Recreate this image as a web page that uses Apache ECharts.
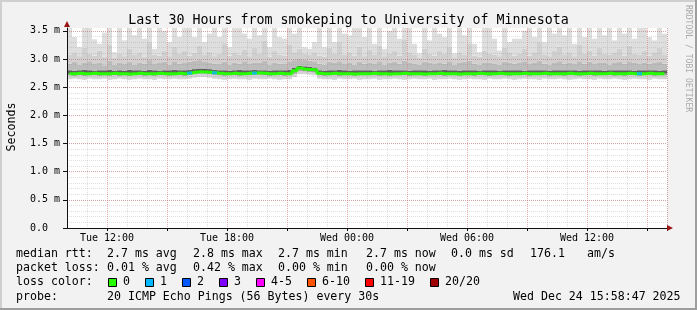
<!DOCTYPE html>
<html><head><meta charset="utf-8">
<script src="https://cdn.jsdelivr.net/npm/echarts@6/dist/echarts.min.js"></script>
<style>html,body{margin:0;padding:0;background:#f2f2f2}#c{width:697px;height:310px}</style>
</head><body><div id="c"></div>
<script>
// ---- data (15-minute buckets from Tue 10:00, 120 buckets = 30 h) ----
const startMinute = 10 * 60;
const bucketMinutes = 15;
const bucketCount = 120;
const xTickLabels = ['Tue 12:00', 'Tue 18:00', 'Wed 00:00', 'Wed 06:00', 'Wed 12:00'];
const yMax = 3.55;

const medianRtt = [
 2.74,2.74,2.745,2.74,2.74,2.745,2.74,2.74,2.74,2.745,
 2.74,2.74,2.735,2.74,2.745,2.74,2.74,2.74,2.745,2.74,
 2.74,2.74,2.745,2.74,2.75,2.765,2.775,2.77,2.765,2.755,
 2.745,2.74,2.74,2.745,2.74,2.74,2.745,2.75,2.75,2.745,
 2.74,2.74,2.745,2.74,2.74,2.79,2.84,2.82,2.815,2.81,
 2.745,2.74,2.74,2.745,2.74,2.74,2.74,2.735,2.74,2.74,
 2.74,2.745,2.74,2.74,2.735,2.74,2.74,2.745,2.74,2.74,
 2.74,2.735,2.74,2.74,2.745,2.74,2.74,2.74,2.735,2.74,
 2.74,2.74,2.745,2.74,2.74,2.74,2.745,2.74,2.74,2.74,
 2.74,2.745,2.74,2.74,2.74,2.745,2.74,2.74,2.74,2.74,
 2.745,2.74,2.74,2.74,2.745,2.74,2.74,2.74,2.745,2.74,
 2.74,2.74,2.745,2.74,2.74,2.74,2.745,2.74,2.74,2.74];

const lossCount = [
 0,0,0,0,0,0,0,0,0,0, 0,0,0,0,0,0,0,0,0,0,
 0,0,0,0,1,0,0,0,0,1, 0,0,0,0,0,0,0,1,0,0,
 0,0,0,0,0,0,0,0,0,0, 0,0,0,0,0,0,0,0,0,0,
 0,0,0,0,0,0,0,0,0,0, 0,0,0,0,0,0,0,0,0,0,
 0,0,0,0,0,0,0,0,0,0, 0,0,0,0,0,0,0,0,0,0,
 0,0,0,0,0,0,0,0,0,0, 0,0,0,0,1,0,0,0,0,0];

const smokeMin = [
 2.64,2.65,2.64,2.63,2.65,2.64,2.64,2.65,2.63,2.64,
 2.65,2.64,2.63,2.64,2.65,2.64,2.64,2.63,2.65,2.64,
 2.64,2.65,2.64,2.64,2.65,2.67,2.68,2.68,2.67,2.65,
 2.64,2.63,2.64,2.65,2.64,2.64,2.63,2.65,2.64,2.64,
 2.65,2.64,2.63,2.64,2.64,2.68,2.73,2.73,2.72,2.71,
 2.65,2.64,2.64,2.63,2.65,2.64,2.64,2.65,2.63,2.64,
 2.64,2.65,2.63,2.64,2.64,2.65,2.64,2.63,2.64,2.65,
 2.64,2.64,2.65,2.63,2.64,2.64,2.65,2.64,2.63,2.64,
 2.65,2.64,2.64,2.63,2.65,2.64,2.64,2.65,2.64,2.63,
 2.64,2.65,2.64,2.64,2.63,2.65,2.64,2.64,2.65,2.64,
 2.63,2.64,2.65,2.64,2.64,2.63,2.65,2.64,2.64,2.65,
 2.64,2.63,2.64,2.65,2.64,2.64,2.63,2.65,2.64,2.64];

const smokeLow = [
 2.71,2.70,2.71,2.70,2.71,2.71,2.70,2.71,2.70,2.71,
 2.70,2.71,2.70,2.71,2.71,2.70,2.71,2.70,2.71,2.71,
 2.70,2.71,2.71,2.70,2.72,2.73,2.74,2.74,2.73,2.72,
 2.71,2.70,2.71,2.71,2.70,2.71,2.71,2.72,2.72,2.71,
 2.70,2.71,2.71,2.70,2.71,2.74,2.79,2.78,2.77,2.76,
 2.71,2.70,2.71,2.71,2.70,2.71,2.71,2.70,2.71,2.71,
 2.71,2.71,2.70,2.71,2.70,2.71,2.71,2.71,2.70,2.71,
 2.71,2.70,2.71,2.71,2.71,2.70,2.71,2.71,2.70,2.71,
 2.71,2.70,2.71,2.71,2.70,2.71,2.71,2.71,2.70,2.71,
 2.71,2.71,2.70,2.71,2.71,2.71,2.70,2.71,2.71,2.70,
 2.71,2.71,2.70,2.71,2.71,2.70,2.71,2.71,2.71,2.70,
 2.71,2.70,2.71,2.71,2.70,2.71,2.71,2.70,2.71,2.71];

const smokeHigh = [
 2.80,2.79,2.80,2.81,2.80,2.79,2.80,2.80,2.81,2.79,
 2.80,2.79,2.81,2.80,2.80,2.79,2.81,2.80,2.79,2.80,
 2.80,2.81,2.80,2.80,2.81,2.82,2.83,2.83,2.82,2.81,
 2.80,2.80,2.79,2.80,2.81,2.80,2.80,2.81,2.80,2.80,
 2.79,2.80,2.80,2.80,2.81,2.84,2.88,2.87,2.86,2.85,
 2.80,2.79,2.80,2.80,2.81,2.80,2.79,2.80,2.80,2.80,
 2.80,2.79,2.80,2.80,2.81,2.80,2.80,2.80,2.79,2.80,
 2.80,2.80,2.79,2.80,2.80,2.81,2.80,2.80,2.79,2.80,
 2.80,2.80,2.79,2.80,2.80,2.80,2.79,2.80,2.80,2.80,
 2.80,2.79,2.80,2.80,2.80,2.80,2.79,2.80,2.80,2.80,
 2.80,2.80,2.79,2.80,2.80,2.80,2.80,2.79,2.80,2.80,
 2.80,2.80,2.80,2.79,2.80,2.80,2.80,2.80,2.79,2.80];

const smokeMid = [
 2.92,2.95,2.90,2.94,2.96,2.91,2.93,2.89,2.97,2.90,
 2.93,2.91,2.95,2.90,2.94,2.92,2.98,2.91,2.93,2.95,
 2.90,2.96,2.92,2.94,2.95,2.97,2.98,2.96,2.94,2.92,
 2.91,2.95,2.90,2.93,2.92,2.96,2.91,2.94,2.93,2.97,
 2.90,2.94,2.92,2.91,2.96,2.98,3.00,2.99,2.97,2.96,
 2.92,2.90,2.95,2.93,2.96,2.91,2.94,2.90,2.95,2.92,
 2.94,2.91,2.96,2.90,2.93,2.95,2.92,2.97,2.94,2.91,
 2.90,2.95,2.93,2.91,2.94,2.92,2.96,2.90,2.93,2.95,
 2.97,2.92,2.90,2.94,2.93,2.91,2.90,2.95,2.93,2.92,
 2.94,2.96,2.91,2.93,2.97,2.92,2.90,2.94,2.96,2.92,
 2.93,2.91,2.96,2.92,2.95,2.91,2.94,2.93,2.90,2.94,
 2.95,2.92,2.96,2.93,2.91,2.94,2.92,2.93,2.95,2.92];

const smokeUpper = [
 3.08,3.12,3.05,3.20,3.10,3.06,3.15,3.04,3.25,3.02,
 3.10,3.05,3.18,3.07,3.12,3.04,3.30,3.08,3.06,3.14,
 3.05,3.22,3.09,3.15,3.06,3.11,3.24,3.07,3.13,3.05,
 3.10,3.28,3.06,3.12,3.08,3.16,3.05,3.20,3.09,3.32,
 3.04,3.14,3.08,3.06,3.26,3.12,3.18,3.10,3.08,3.12,
 3.06,3.04,3.20,3.10,3.30,3.08,3.12,3.06,3.22,3.05,
 3.16,3.08,3.24,3.05,3.10,3.14,3.06,3.35,3.12,3.07,
 3.02,3.18,3.09,3.06,3.14,3.10,3.22,3.03,3.12,3.08,
 3.28,3.06,3.04,3.15,3.10,3.08,3.05,3.20,3.12,3.06,
 3.10,3.18,3.06,3.12,3.30,3.08,3.05,3.14,3.22,3.07,
 3.12,3.05,3.26,3.09,3.15,3.06,3.20,3.10,3.08,3.12,
 3.18,3.06,3.24,3.10,3.08,3.14,3.06,3.12,3.20,3.08];

const smokeMax = [
 3.55,3.39,3.21,3.55,3.55,3.35,3.27,3.47,3.55,3.12,
 3.55,3.33,3.55,3.42,3.55,3.36,3.55,3.18,3.55,3.50,
 3.30,3.55,3.39,3.55,3.55,3.39,3.55,3.30,3.45,3.55,
 3.39,3.55,3.21,3.55,3.55,3.45,3.36,3.55,3.42,3.55,
 3.21,3.55,3.39,3.36,3.55,3.45,3.55,3.21,3.18,3.30,
 3.55,3.21,3.55,3.30,3.55,3.45,3.42,3.55,3.55,3.39,
 3.55,3.27,3.55,3.18,3.50,3.55,3.36,3.55,3.55,3.27,
 3.10,3.55,3.33,3.55,3.45,3.39,3.55,3.10,3.55,3.42,
 3.55,3.27,3.12,3.55,3.55,3.36,3.15,3.55,3.30,3.36,
 3.36,3.50,3.55,3.39,3.55,3.30,3.55,3.45,3.55,3.42,
 3.55,3.27,3.55,3.39,3.55,3.36,3.55,3.42,3.55,3.33,
 3.55,3.45,3.55,3.36,3.55,3.55,3.39,3.33,3.55,3.45];

const lossLabels = ['0', '1', '2', '3', '4-5', '6-10', '11-19', '20/20'];
const lossColors = ['#26ff00', '#00b8ff', '#0059ff', '#7e00ff', '#ff00ff', '#ff5500', '#ff0000', '#a10000'];
const smokeColors = ['#d4d4d4', '#a0a0a0', '#5e5e5e', '#bcbcbc', '#d0d0d0', '#dedede'];

const statsRtt = ['2.7 ms avg', '2.8 ms max', '2.7 ms min', '2.7 ms now', '0.0 ms sd', '176.1', 'am/s'];
const statsLoss = ['0.01 % avg', '0.42 % max', '0.00 % min', '0.00 % now'];

// ---- build ----
const days = ['Tue', 'Wed'];
const categories = [];
for (let i = 0; i < bucketCount; i++) {
  const m = startMinute + i * bucketMinutes;
  const d = days[Math.floor(m / 1440)];
  const hh = Math.floor((m % 1440) / 60), mm = m % 60;
  categories.push(d + ' ' + String(hh).padStart(2, '0') + ':' + String(mm).padStart(2, '0'));
}
const layers = [smokeMin, smokeLow, medianRtt, smokeHigh, smokeMid, smokeUpper, smokeMax];
const series = [];
series.push({type: 'bar', stack: 'smoke', data: smokeMin, itemStyle: {color: 'rgba(0,0,0,0)'},
  barCategoryGap: '0%', silent: true, z: 2});
for (let k = 1; k < layers.length; k++) {
  series.push({type: 'bar', stack: 'smoke', barCategoryGap: '0%', silent: true, z: 2,
    itemStyle: {color: smokeColors[k - 1]},
    data: layers[k].map((v, i) => +(v - layers[k - 1][i]).toFixed(4))});
}
series.push({type: 'line', step: 'middle', data: medianRtt, showSymbol: false, symbol: 'none',
  lineStyle: {color: lossColors[0], width: 3}, z: 6, silent: true});
function lossIndex(n) { return n <= 3 ? n : n <= 5 ? 4 : n <= 10 ? 5 : n <= 19 ? 6 : 7; }
const lossPts = [];
lossCount.forEach((n, i) => { if (n > 0) lossPts.push({value: [i, medianRtt[i]], itemStyle: {color: lossColors[lossIndex(n)]}}); });
series.push({type: 'scatter', data: lossPts, symbol: 'rect', symbolSize: [5, 3], z: 7, silent: true});

const mono = '"DejaVu Sans Mono", monospace';
const legendFont = '11.6px ' + mono;
function txt(t, x, y, extra) {
  return Object.assign({type: 'text', x: x, y: y, z: 100,
    style: {text: t, font: legendFont, fill: '#000', textVerticalAlign: 'middle', verticalAlign: 'middle'}}, extra || {});
}
const gfx = [];
// plot canvas
gfx.push({type: 'rect', shape: {x: 67, y: 28, width: 600, height: 200}, style: {fill: '#ffffff'}, z: -1, silent: true});
// border
gfx.push({type: 'rect', shape: {x: 0, y: 0, width: 697, height: 2}, style: {fill: '#cfcfcf'}, z: 100});
gfx.push({type: 'rect', shape: {x: 0, y: 0, width: 2, height: 310}, style: {fill: '#cfcfcf'}, z: 100});
gfx.push({type: 'rect', shape: {x: 0, y: 308, width: 697, height: 2}, style: {fill: '#9e9e9e'}, z: 100});
gfx.push({type: 'rect', shape: {x: 695, y: 0, width: 2, height: 310}, style: {fill: '#9e9e9e'}, z: 100});
// axis arrows
gfx.push({type: 'polygon', shape: {points: [[667, 225], [673, 228], [667, 231]]}, style: {fill: '#9a1414'}, z: 100});
gfx.push({type: 'polygon', shape: {points: [[64, 27], [67, 21], [70, 27]]}, style: {fill: '#9a1414'}, z: 100});
// y axis title
gfx.push({type: 'text', x: 12, y: 127, rotation: Math.PI / 2, z: 100,
  style: {text: 'Seconds', font: legendFont, fill: '#000', textAlign: 'center', align: 'center',
    textVerticalAlign: 'middle', verticalAlign: 'middle'}});
// watermark
gfx.push({type: 'text', x: 688, y: 5, rotation: -Math.PI / 2, z: 100,
  style: {text: 'RRDTOOL / TOBI OETIKER', font: '8.1px ' + mono, fill: '#aaaaaa', textVerticalAlign: 'middle', verticalAlign: 'middle'}});
// legend rows
const r1 = 254, r2 = 268, r3 = 282, r4 = 297;
gfx.push(txt('median rtt:', 16, r1));
[107, 193, 278, 366, 451, 530, 587].forEach((x, i) => gfx.push(txt(statsRtt[i], x, r1)));
gfx.push(txt('packet loss:', 16, r2));
[107, 193, 278, 366].forEach((x, i) => gfx.push(txt(statsLoss[i], x, r2)));
gfx.push(txt('loss color:', 16, r3));
[108, 145, 182, 219, 256, 307, 365, 430].forEach((x, i) => {
  gfx.push({type: 'rect', shape: {x: x + 0.5, y: 278.5, width: 8, height: 8}, z: 100,
    style: {fill: lossColors[i], stroke: '#000', lineWidth: 1}});
  gfx.push(txt(lossLabels[i], x + 15, r3));
});
gfx.push(txt('probe:', 16, r4));
gfx.push(txt('20 ICMP Echo Pings (56 Bytes) every 30s', 107, r4));
gfx.push(txt('Wed Dec 24 15:58:47 2025', 513, r4));

const majorCol = 'rgba(230,110,110,0.55)';
const minorCol = 'rgba(140,140,140,0.28)';
const chart = echarts.init(document.getElementById('c'));
chart.setOption({
  animation: false,
  backgroundColor: '#f2f2f2',
  title: {text: 'Last 30 Hours from smokeping to University of Minnesota', left: 'center', top: 9,
    textStyle: {fontFamily: mono, fontSize: 13.3, fontWeight: 'normal', color: '#000'}},
  grid: {left: 67, top: 28, width: 600, height: 200, containLabel: false, outerBoundsMode: 'none',
    show: true, backgroundColor: '#ffffff', borderWidth: 0},
  xAxis: [{
    type: 'category', data: categories, boundaryGap: true, z: 3,
    axisLine: {lineStyle: {color: '#101010', width: 1}},
    axisTick: {show: true, length: 3, interval: (i, v) => (i % 12) === 8, lineStyle: {color: '#101010'}},
    axisLabel: {interval: (i, v) => xTickLabels.indexOf(v) >= 0, fontFamily: mono, fontSize: 10, color: '#000',
      margin: 5, padding: [0, 5, 0, 0]},
    splitLine: {show: true, interval: (i, v) => (i % 12) === 8, lineStyle: {color: majorCol, type: [1, 1], width: 1}}
  }, {
    type: 'category', data: categories, boundaryGap: true, z: 3, position: 'bottom',
    axisLine: {show: false}, axisTick: {show: false}, axisLabel: {show: false},
    splitLine: {show: true, interval: (i, v) => i > 0 && i < bucketCount && (i % 4) === 0 && (i % 12) !== 8,
      lineStyle: {color: minorCol, type: [1, 1], width: 1}}
  }],
  yAxis: [{
    type: 'value', min: 0, max: yMax, interval: 0.5, z: 3,
    axisLine: {show: true, lineStyle: {color: '#101010', width: 1}},
    axisTick: {show: true, length: 4, lineStyle: {color: '#101010'}},
    axisLabel: {showMaxLabel: false, align: 'left', margin: 37, fontFamily: mono, fontSize: 10, color: '#000',
      formatter: v => v === 0 ? '0.0' : v.toFixed(1) + ' m'},
    splitLine: {show: true, showMinLine: false, showMaxLine: false, lineStyle: {color: majorCol, type: [1, 1], width: 1}}
  }, {
    type: 'value', min: 0, max: yMax, interval: 0.1, z: 3, position: 'left',
    axisLine: {show: false}, axisTick: {show: false}, axisLabel: {show: false},
    splitLine: {show: true, showMinLine: false, showMaxLine: false, lineStyle: {color: minorCol, type: [1, 1], width: 1}}
  }],
  series: series,
  graphic: {elements: gfx}
});
</script></body></html>
